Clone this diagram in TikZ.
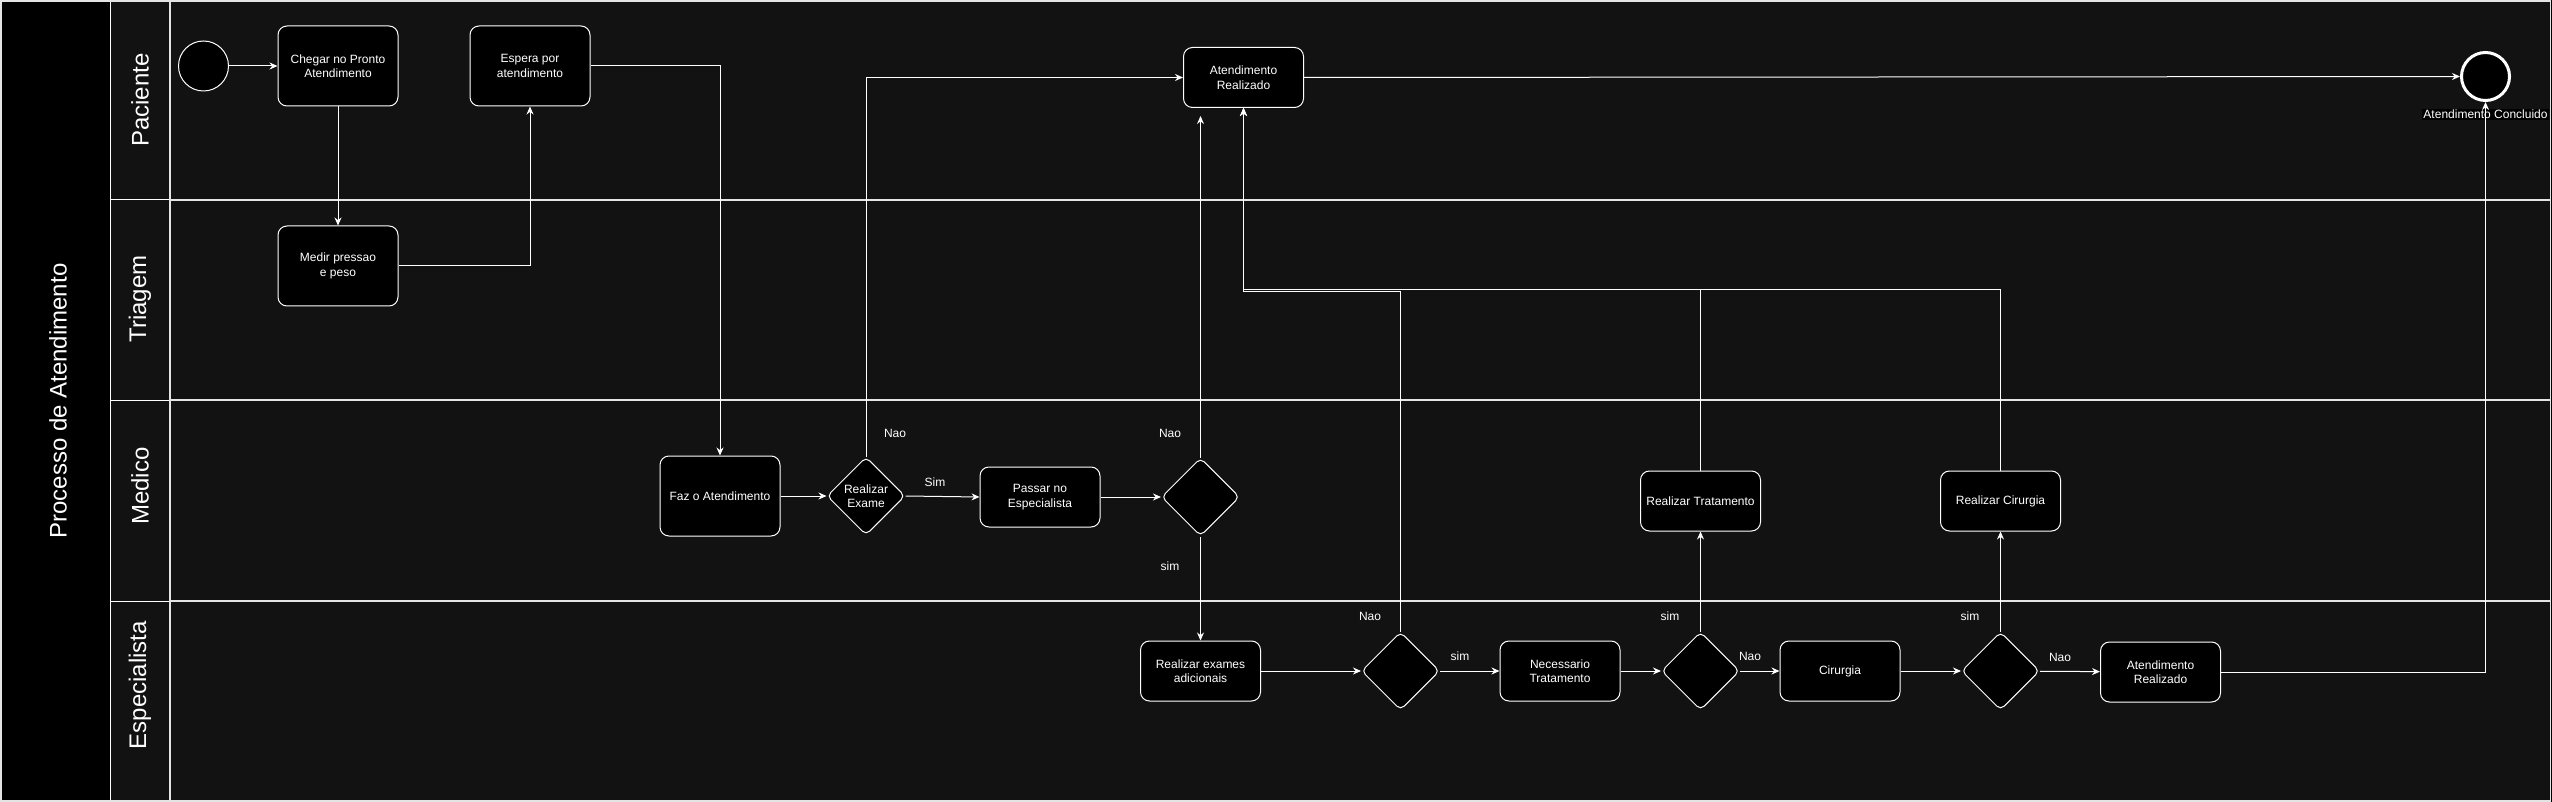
\documentclass[tikz,border=0pt]{standalone}
\usepackage{fontspec}
\setmainfont{Liberation Sans}
\usetikzlibrary{arrows.meta,shapes.geometric}
\definecolor{lanebg}{HTML}{121212}
\definecolor{laneline}{HTML}{E4E4E4}
\definecolor{lanemid}{HTML}{A8A8A8}

\begin{document}
\begin{tikzpicture}[x = 1pt, y = -1pt,
    every node/.style = {text=white, font=\fontsize{12}{14.5}\selectfont},
    task/.style = {draw=white, fill=black, line width=1pt, rounded corners=9pt,
        minimum width=120pt, inner sep=0pt, align=center},
    gate/.style = {diamond, draw=white, fill=black, line width=1pt, rounded corners=5pt,
        minimum width=78pt, minimum height=78pt, inner sep=0pt, align=center},
    event/.style = {circle, draw=white, fill=black, line width=1pt,
        minimum size=50pt, inner sep=0pt},
    lanetitle/.style = {rotate=90, font=\fontsize{24}{28}\selectfont},
    cond/.style = {inner sep=1pt},
    flow/.style = {draw=white, line width=1pt, -{Stealth[length=8pt, width=7pt]}},
    sepline/.style = {draw=laneline, line width=1.1pt, double=lanemid, double distance=0.7pt}]
    \useasboundingbox (0,0) rectangle (2552,802);
    \begin{scope}
    \fill[black]
    (0,0) rectangle (2552,802);
    \fill[lanebg]
    (110,1) rectangle (2550,801);
    \end{scope}
    \begin{scope}[line width=1pt, white]
    \draw
    (110,1) -- (110,801)
    (110,200) -- (170,200)
    (110,400) -- (170,400)
    (110,601) -- (170,601);
    \end{scope}
    \begin{scope}[sepline]
    \draw
    (170,200) -- (2550,200)
    (170,400) -- (2550,400)
    (170,601) -- (2550,601)
    (170,1) -- (170,801);
    \draw[draw=laneline, double=none, line width=1.5pt]
    (0.75,1.25) rectangle (2550.5,801);
    \end{scope}
    \node[lanetitle] (pool) at (58,401) {Processo de Atendimento};
    \node[lanetitle] (lpaciente) at (140,100) {Paciente};
    \node[lanetitle] (ltriagem) at (140,299) {Triagem};
    \node[lanetitle] (lmedico) at (140,486) {Medico};
    \node[lanetitle] (lespec) at (140,685) {Especialista};
    % Paciente / Triagem
    \node[event] (inicio) at (203.5,66) {};
    \node[task, minimum height=80pt] (chegar) at (338,66) {Chegar no Pronto\\Atendimento};
    \node[task, minimum height=80pt] (espera) at (530,66) {Espera por\\atendimento};
    \node[task, minimum height=80pt] (medir) at (338,266) {Medir pressao\\e peso};
    \node[task, minimum height=60pt] (realizado) at (1243.5,77.5) {Atendimento\\Realizado};
    \node[event, line width=3pt, minimum size=48pt] (fim) at (2485.5,76.5) {};
    \node[fill=black, inner sep=1pt] (fimtxt) at (2485.5,114.5) {Atendimento Concluido};
    % Medico
    \node[task, minimum height=80pt] (faz) at (720,496) {Faz o Atendimento};
    \node[gate] (exame) at (866,496) {Realizar\\Exame};
    \node[task, minimum height=60pt] (passar) at (1040,497) {Passar no\\Especialista};
    \node[gate] (decesp) at (1200.5,497) {};
    \node[task, minimum height=60pt] (tratamento) at (1700.5,501) {Realizar Tratamento};
    \node[task, minimum height=60pt] (cirurgia) at (2000.5,501) {Realizar Cirurgia};
    % Especialista
    \node[task, minimum height=60pt] (adicionais) at (1200.5,671) {Realizar exames\\adicionais};
    \node[gate] (dectrat) at (1400.5,671) {};
    \node[task, minimum height=60pt] (necessario) at (1560,671) {Necessario\\Tratamento};
    \node[gate] (decnec) at (1700.5,671) {};
    \node[task, minimum height=60pt] (cirurgiab) at (1840,671) {Cirurgia};
    \node[gate] (deccir) at (2000.5,671) {};
    \node[task, minimum height=60pt] (realizadob) at (2160.5,672) {Atendimento\\Realizado};
    \node[cond] (nao1) at (895,433) {Nao};
    \node[cond] (sim1) at (935,482) {Sim};
    \node[cond] (nao2) at (1170,433) {Nao};
    \node[cond] (sim2) at (1170,566) {sim};
    \node[cond] (nao3) at (1370,616) {Nao};
    \node[cond] (sim3) at (1460,656) {sim};
    \node[cond] (sim4) at (1670,616) {sim};
    \node[cond] (nao4) at (1750,656) {Nao};
    \node[cond] (sim5) at (1970,616) {sim};
    \node[cond] (nao5) at (2060,657) {Nao};
    \coordinate (voltatrat) at (1400.5,291.5);
    \coordinate (voltanec) at (1700.5,289.5);
    \coordinate (voltacir) at (2000.5,289.5);
    \begin{scope}[flow]
    \draw (inicio) -- (chegar);
    \draw (chegar) -- (medir);
    \draw (medir.east) -| (espera.south);
    \draw (espera.east) -| (faz.north);
    \draw (faz) -- (exame);
    \draw (exame.north) |- (realizado.west);
    \draw (exame.east) -- (passar.west);
    \draw (passar) -- (decesp);
    \draw[shorten >=8pt] (decesp.north) -- (decesp.north |- realizado.south);
    \draw (decesp.south) -- (adicionais.north);
    \draw (adicionais) -- (dectrat);
    \draw (dectrat) -- (necessario);
    \draw (necessario) -- (decnec);
    \draw (decnec) -- (cirurgiab);
    \draw (cirurgiab) -- (deccir);
    \draw (deccir) -- (realizadob);
    \draw (decnec.north) -- (tratamento.south);
    \draw (deccir.north) -- (cirurgia.south);
    \draw (dectrat.north) -- (voltatrat) -| (realizado.south);
    \draw (tratamento.north) -- (voltanec) -| (realizado.south);
    \draw (cirurgia.north) -- (voltacir) -| (realizado.south);
    \draw (realizado.east) -- (fim.west);
    \draw (realizadob.east) -| (fim.south);
    \end{scope}
\end{tikzpicture}
\end{document}
